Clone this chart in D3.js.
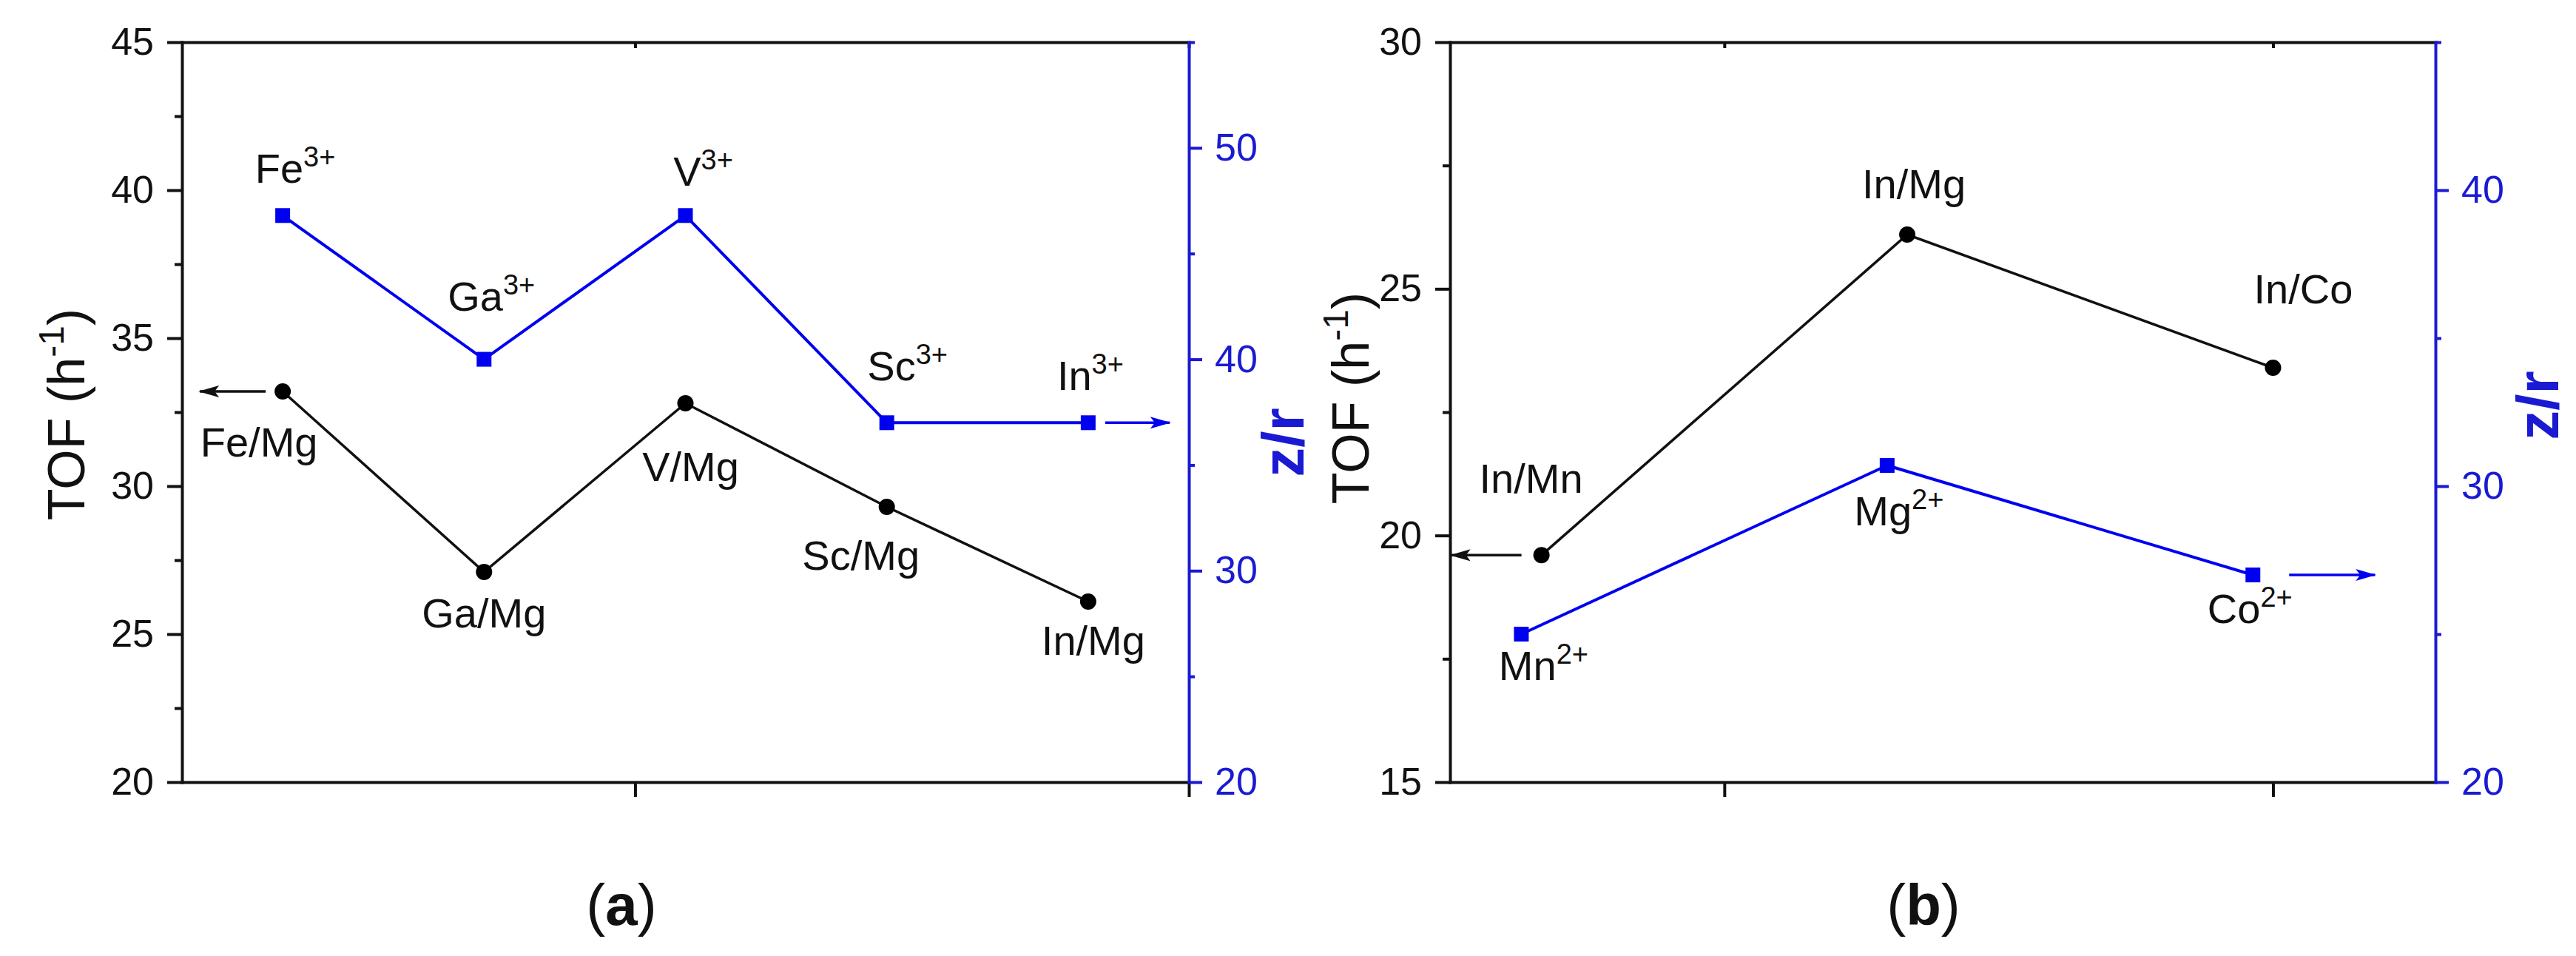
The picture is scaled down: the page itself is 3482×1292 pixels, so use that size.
<!DOCTYPE html>
<html>
<head>
<meta charset="utf-8">
<script src="https://cdn.jsdelivr.net/npm/d3@7"></script>
<style>
  body { margin: 0; background: #fff; }
  text { font-family: "Liberation Sans", Arial, sans-serif; }
</style>
</head>
<body>
<svg id="chart"></svg>
<script>
// ---- panel (a) data ----
const aTofLabels = ["Fe/Mg", "Ga/Mg", "V/Mg", "Sc/Mg", "In/Mg"];
const aTofX = [1, 2, 3, 4, 5];
const aTof = [33.2, 27.1, 32.8, 29.3, 26.1];
const aIons = ["Fe", "Ga", "V", "Sc", "In"];
const aCharge = "3+";
const aZrX = [1, 2, 3, 4, 5];
const aZr = [46.8, 40.0, 46.8, 37.0, 37.0];
const aLeftTicks = [20, 25, 30, 35, 40, 45];
const aLeftMinor = [22.5, 27.5, 32.5, 37.5, 42.5];
const aRightTicks = [20, 30, 40, 50];
const aRightMinor = [25, 35, 45, 55];
const aXTicks = [2.75, 5.5];

// ---- panel (b) data ----
const bTofLabels = ["In/Mn", "In/Mg", "In/Co"];
const bTofX = [1, 2, 3];
const bTof = [19.6, 26.1, 23.4];
const bIons = ["Mn", "Mg", "Co"];
const bCharge = "2+";
const bZrX = [0.945, 1.945, 2.945];
const bZr = [25.0, 30.7, 27.0];
const bLeftTicks = [15, 20, 25, 30];
const bLeftMinor = [17.5, 22.5, 27.5];
const bRightTicks = [20, 30, 40];
const bRightMinor = [25, 35, 45];
const bXTicks = [1.5, 3];

const BLUE = "#0000f0";
const BLUE_AXIS = "#1a1ad2";
const INK = "#111";

const W = 3482, H = 1292;
const svg = d3.select("#chart").attr("width", W).attr("height", H);

// layout of the two panels (pixel positions and label offsets)
const panels = [
  {
    left: 246, right: 1607, top: 57, bottom: 1057,
    xDomain: [0.5, 5.5], yLeft: [20, 45], yRight: [20, 55],
    tofX: aTofX, tof: aTof, tofLabels: aTofLabels,
    zrX: aZrX, zr: aZr, ions: aIons, charge: aCharge,
    leftTicks: aLeftTicks, leftMinor: aLeftMinor,
    rightTicks: aRightTicks, rightMinor: aRightMinor, xTicks: aXTicks,
    tofOff: [[-32, 88], [0, 75], [7, 105], [-35, 85], [7, 72]],
    zrOff: [[17, -44], [10, -66], [24, -40], [28, -57], [3, -44]],
    tofArrow: {i: 0, from: -23, to: -112},
    zrArrow: {i: 4, from: 23, to: 110},
    tofTitle: {x: 114, y: 560},
    zrTitle: {x: 1762, y: 598},
    caption: {x: 840, y: 1250, letter: "a"}
  },
  {
    left: 1960, right: 3292, top: 57, bottom: 1057,
    xDomain: [0.75, 3.444], yLeft: [15, 30], yRight: [20, 45],
    tofX: bTofX, tof: bTof, tofLabels: bTofLabels,
    zrX: bZrX, zr: bZr, ions: bIons, charge: bCharge,
    leftTicks: bLeftTicks, leftMinor: bLeftMinor,
    rightTicks: bRightTicks, rightMinor: bRightMinor, xTicks: bXTicks,
    tofOff: [[-14, -84], [9, -49], [41, -87]],
    zrOff: [[30, 62], [16, 81], [-4, 65]],
    tofArrow: {i: 0, from: -27, to: -122},
    zrArrow: {i: 2, from: 49, to: 165},
    tofTitle: {x: 1850, y: 538},
    zrTitle: {x: 3458, y: 548},
    caption: {x: 2600, y: 1250, letter: "b"}
  }
];

// arrow heads
const defs = svg.append("defs");
[["arrowBlack", INK], ["arrowBlue", BLUE]].forEach(([id, c]) => {
  defs.append("marker")
    .attr("id", id)
    .attr("markerUnits", "userSpaceOnUse")
    .attr("markerWidth", 28).attr("markerHeight", 16)
    .attr("refX", 26).attr("refY", 8)
    .attr("orient", "auto")
    .append("path").attr("d", "M0,0 L28,8 L0,16 L6,8 Z").attr("fill", c);
});

function styleAxis(g, color, fontSize) {
  g.select(".domain").attr("stroke", color).attr("stroke-width", 4).attr("stroke-linecap", "square");
  g.selectAll(".tick line").attr("stroke", color).attr("stroke-width", 4);
  g.selectAll(".tick text").attr("fill", color).attr("font-size", fontSize)
    .attr("font-family", "'Liberation Sans', Arial, sans-serif");
}

function ionLabel(sel, base, sup) {
  sel.append("tspan").text(base);
  sel.append("tspan").attr("font-size", 38).attr("dy", -22).text(sup);
}

panels.forEach(p => {
  const x = d3.scaleLinear().domain(p.xDomain).range([p.left, p.right]);
  const yL = d3.scaleLinear().domain(p.yLeft).range([p.bottom, p.top]);
  const yR = d3.scaleLinear().domain(p.yRight).range([p.bottom, p.top]);
  const g = svg.append("g");

  // bottom and top x axes (no labels)
  const bx = g.append("g").attr("transform", `translate(0,${p.bottom})`)
    .call(d3.axisBottom(x).tickValues(p.xTicks).tickSize(20).tickSizeOuter(0).tickFormat(""));
  styleAxis(bx, INK, 52);
  const tx = g.append("g").attr("transform", `translate(0,${p.top})`)
    .call(d3.axisTop(x).tickValues(p.xTicks).tickSize(-8).tickSizeOuter(0).tickFormat(""));
  styleAxis(tx, INK, 52);

  // left axis (TOF)
  const la = g.append("g").attr("transform", `translate(${p.left},0)`)
    .call(d3.axisLeft(yL).tickValues(p.leftTicks).tickSize(20).tickPadding(18).tickSizeOuter(0));
  styleAxis(la, INK, 52);
  const lm = g.append("g").attr("transform", `translate(${p.left},0)`)
    .call(d3.axisLeft(yL).tickValues(p.leftMinor).tickSize(10).tickFormat(""));
  lm.select(".domain").remove();
  styleAxis(lm, INK, 52);

  // right axis (z/r)
  const ra = g.append("g").attr("transform", `translate(${p.right},0)`)
    .call(d3.axisRight(yR).tickValues(p.rightTicks).tickSize(18).tickPadding(17).tickSizeOuter(0));
  styleAxis(ra, BLUE_AXIS, 52);
  const rm = g.append("g").attr("transform", `translate(${p.right},0)`)
    .call(d3.axisRight(yR).tickValues(p.rightMinor).tickSize(8).tickFormat(""));
  rm.select(".domain").remove();
  styleAxis(rm, BLUE_AXIS, 52);

  // axis titles
  const tt = g.append("text")
    .attr("transform", `translate(${p.tofTitle.x},${p.tofTitle.y}) rotate(-90)`)
    .attr("text-anchor", "middle").attr("font-size", 70).attr("fill", INK);
  tt.append("tspan").text("TOF (h");
  tt.append("tspan").attr("font-size", 48).attr("dy", -28).text("-1");
  tt.append("tspan").attr("dy", 28).text(")");

  g.append("text")
    .attr("transform", `translate(${p.zrTitle.x},${p.zrTitle.y}) rotate(-90)`)
    .attr("text-anchor", "middle").attr("font-size", 80).attr("font-weight", "bold")
    .attr("fill", BLUE_AXIS).text("z/r");

  // z/r series
  const zrPts = p.zr.map((v, i) => [p.zrX[i], v]);
  g.append("path")
    .attr("d", d3.line().x(d => x(d[0])).y(d => yR(d[1]))(zrPts))
    .attr("fill", "none").attr("stroke", BLUE).attr("stroke-width", 4);
  g.selectAll(".sq").data(zrPts).enter().append("rect")
    .attr("x", d => x(d[0]) - 10).attr("y", d => yR(d[1]) - 10)
    .attr("width", 20).attr("height", 20).attr("fill", BLUE);

  // TOF series
  const tofPts = p.tof.map((v, i) => [p.tofX[i], v]);
  g.append("path")
    .attr("d", d3.line().x(d => x(d[0])).y(d => yL(d[1]))(tofPts))
    .attr("fill", "none").attr("stroke", INK).attr("stroke-width", 3.5);
  g.selectAll(".dot").data(tofPts).enter().append("circle")
    .attr("cx", d => x(d[0])).attr("cy", d => yL(d[1]))
    .attr("r", 11).attr("fill", "#000");

  // point labels
  tofPts.forEach((d, i) => {
    g.append("text")
      .attr("x", x(d[0]) + p.tofOff[i][0]).attr("y", yL(d[1]) + p.tofOff[i][1])
      .attr("text-anchor", "middle").attr("font-size", 56).attr("fill", INK)
      .text(p.tofLabels[i]);
  });
  zrPts.forEach((d, i) => {
    const t = g.append("text")
      .attr("x", x(d[0]) + p.zrOff[i][0]).attr("y", yR(d[1]) + p.zrOff[i][1])
      .attr("text-anchor", "middle").attr("font-size", 56).attr("fill", INK);
    ionLabel(t, p.ions[i], p.charge);
  });

  // arrows pointing at the axis each series belongs to
  const ta = tofPts[p.tofArrow.i];
  g.append("line")
    .attr("x1", x(ta[0]) + p.tofArrow.from).attr("x2", x(ta[0]) + p.tofArrow.to)
    .attr("y1", yL(ta[1])).attr("y2", yL(ta[1]))
    .attr("stroke", INK).attr("stroke-width", 3.5).attr("marker-end", "url(#arrowBlack)");
  const za = zrPts[p.zrArrow.i];
  g.append("line")
    .attr("x1", x(za[0]) + p.zrArrow.from).attr("x2", x(za[0]) + p.zrArrow.to)
    .attr("y1", yR(za[1])).attr("y2", yR(za[1]))
    .attr("stroke", BLUE).attr("stroke-width", 3.5).attr("marker-end", "url(#arrowBlue)");

  // panel caption
  const cap = svg.append("text")
    .attr("x", p.caption.x).attr("y", p.caption.y)
    .attr("text-anchor", "middle").attr("font-size", 78)
    .attr("font-family", "'Liberation Serif', 'Times New Roman', serif").attr("fill", INK);
  cap.append("tspan").text("(");
  cap.append("tspan").attr("font-weight", "bold").text(p.caption.letter);
  cap.append("tspan").text(")");
});
</script>
</body>
</html>
